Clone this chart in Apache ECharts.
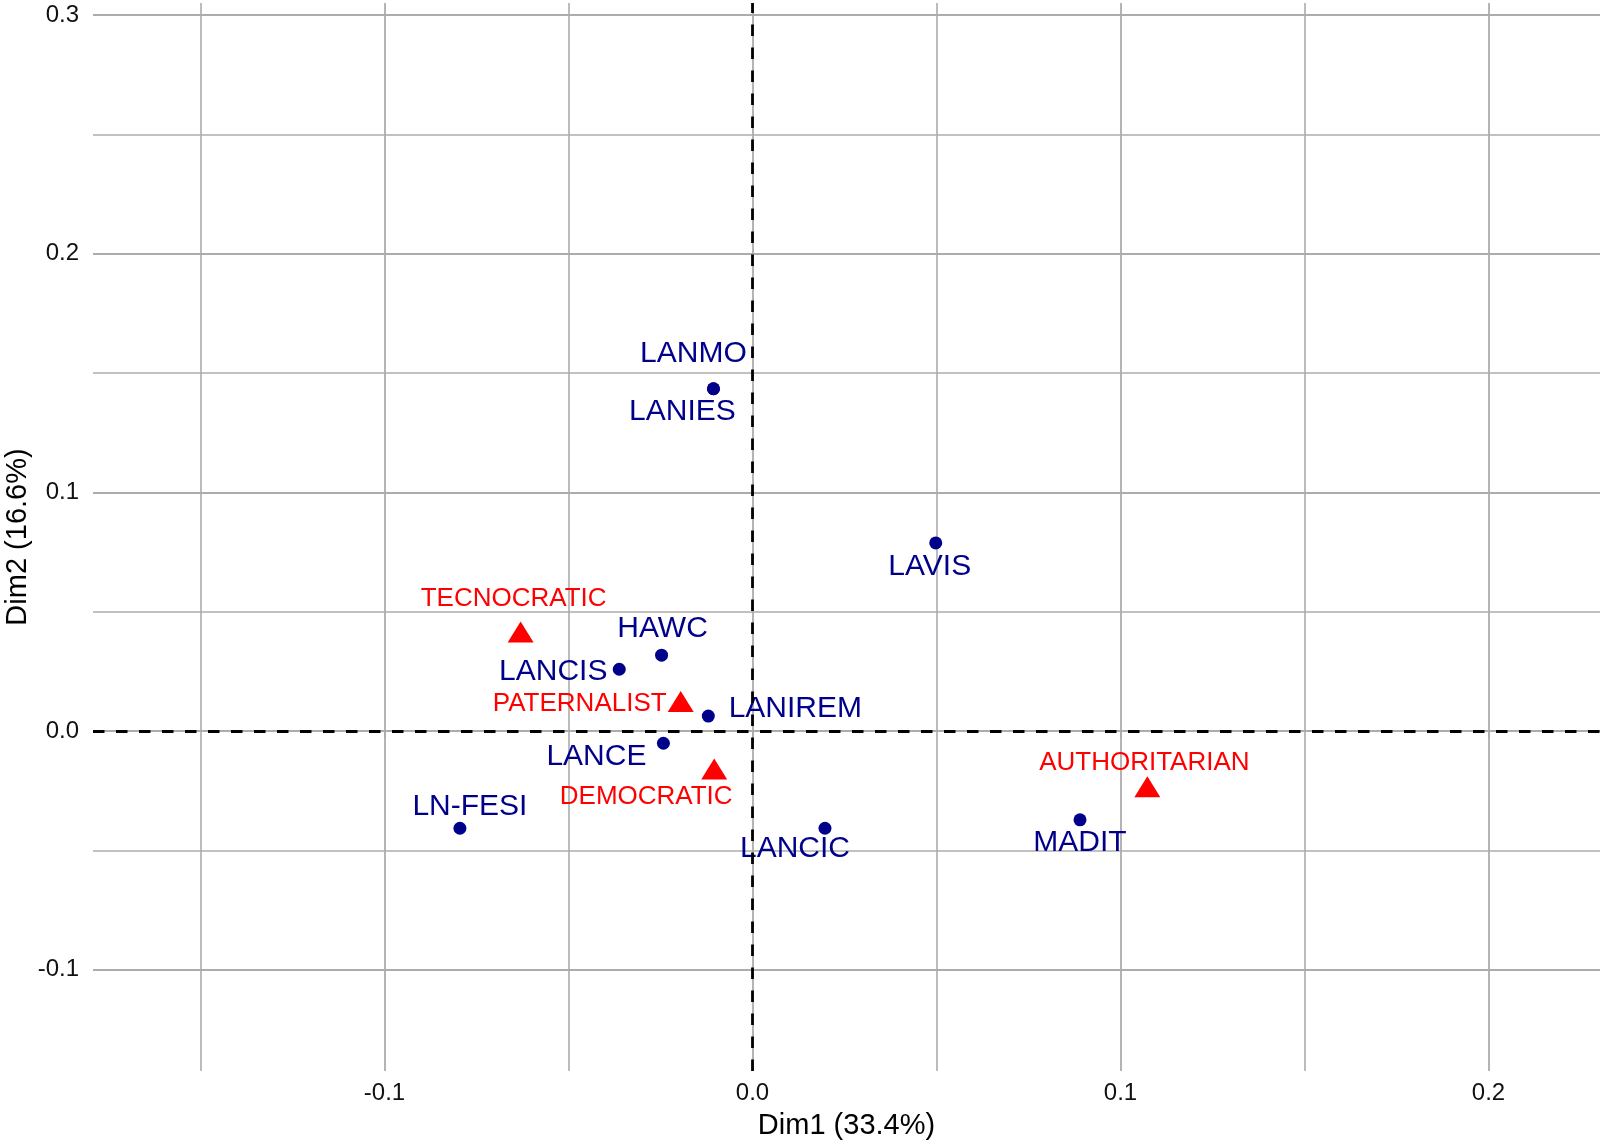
<!DOCTYPE html>
<html>
<head>
<meta charset="utf-8">
<script src="https://cdn.jsdelivr.net/npm/echarts@6/dist/echarts.min.js"></script>
<style>
  html, body { margin: 0; padding: 0; background: #ffffff; }
  #chart { width: 1603px; height: 1144px; }
</style>
</head>
<body>
<div id="chart"></div>
<script>
// ---- Data ----
const varNames = ['LANMO', 'LANIES', 'HAWC', 'LANCIS', 'LANIREM', 'LANCE', 'LAVIS', 'MADIT', 'LN-FESI', 'LANCIC'];
const varDim1  = [-0.0106, -0.0106, -0.0247, -0.0362, -0.0120, -0.0242, 0.0498, 0.0890, -0.0795, 0.0197];
const varDim2  = [ 0.1434,  0.1434,  0.0318,  0.0259,  0.0063, -0.0051, 0.0788, -0.0372, -0.0407, -0.0407];

const groupNames = ['TECNOCRATIC', 'PATERNALIST', 'DEMOCRATIC', 'AUTHORITARIAN'];
const groupDim1  = [-0.0630, -0.0195, -0.0104, 0.1073];
const groupDim2  = [ 0.0415,  0.0124, -0.0159, -0.0233];

const xMajorTicks = [-0.1, 0.0, 0.1, 0.2];
const xMinorTicks = [-0.15, -0.05, 0.05, 0.15];
const yMajorTicks = [-0.1, 0.0, 0.1, 0.2, 0.3];
const yMinorTicks = [-0.05, 0.05, 0.15, 0.25];

const xTitle = 'Dim1 (33.4%)';
const yTitle = 'Dim2 (16.6%)';

// ---- Layout (label offsets in px, repelled text placement) ----
const varLabelOffsets = [[-20, -35], [-31, 23], [1, -26], [-66, 2], [87, -7], [-67, 13], [-6, 24], [0, 23], [10, -21], [-30, 21]];
const groupLabelOffsets = [[-7, -33], [-101, 2], [-68, 28], [-3, -24]];

const FONT = '"Liberation Sans", Arial, Helvetica, sans-serif';
const GRID_COLOR = '#acacac';

const chart = echarts.init(document.getElementById('chart'), null, { renderer: 'canvas' });

const fmt = v => Number(v).toFixed(1);

const varData = varNames.map((n, i) => ({
  name: n,
  value: [varDim1[i], varDim2[i]],
  label: { offset: varLabelOffsets[i] }
}));
const groupData = groupNames.map((n, i) => ({
  name: n,
  value: [groupDim1[i], groupDim2[i]],
  label: { offset: groupLabelOffsets[i] }
}));

const xRange = { min: -0.1792, max: 0.2303 };
const yRange = { min: -0.1424, max: 0.3050 };

const option = {
  backgroundColor: '#ffffff',
  animation: false,
  grid: { left: 93, right: 3, top: 3, bottom: 73, containLabel: false, outerBoundsMode: 'none' },
  xAxis: [
    {
      type: 'value', min: xRange.min, max: xRange.max, position: 'bottom',
      name: xTitle, nameLocation: 'middle', nameGap: 40, nameMoveOverlap: false,
      nameTextStyle: { fontFamily: FONT, fontSize: 29, color: '#000' },
      axisLine: { show: false },
      axisTick: { show: true, length: 7, customValues: xMajorTicks, lineStyle: { color: GRID_COLOR, width: 1.8 } },
      axisLabel: { customValues: xMajorTicks, formatter: fmt, fontFamily: FONT, fontSize: 24, color: '#111', margin: 10 },
      splitLine: { show: true, lineStyle: { color: GRID_COLOR, width: 1.8 } }
    },
    {
      type: 'value', min: xRange.min, max: xRange.max, position: 'bottom',
      axisLine: { show: false },
      axisTick: { show: false, customValues: xMinorTicks },
      axisLabel: { show: false, customValues: xMinorTicks },
      splitLine: { show: true, lineStyle: { color: GRID_COLOR, width: 1.6 } }
    }
  ],
  yAxis: [
    {
      type: 'value', min: yRange.min, max: yRange.max, position: 'left',
      name: yTitle, nameLocation: 'middle', nameGap: 61, nameMoveOverlap: false,
      nameTextStyle: { fontFamily: FONT, fontSize: 29, color: '#000' },
      axisLine: { show: false },
      axisTick: { show: true, length: 7, customValues: yMajorTicks, lineStyle: { color: GRID_COLOR, width: 1.8 } },
      axisLabel: { customValues: yMajorTicks, formatter: fmt, fontFamily: FONT, fontSize: 24, color: '#111', margin: 14 },
      splitLine: { show: true, lineStyle: { color: GRID_COLOR, width: 1.8 } }
    },
    {
      type: 'value', min: yRange.min, max: yRange.max, position: 'left',
      axisLine: { show: false },
      axisTick: { show: false, customValues: yMinorTicks },
      axisLabel: { show: false, customValues: yMinorTicks },
      splitLine: { show: true, lineStyle: { color: GRID_COLOR, width: 1.6 } }
    }
  ],
  series: [
    {
      type: 'scatter', name: 'axes0', xAxisIndex: 0, yAxisIndex: 0, data: [], z: 1,
      silent: true,
      markLine: {
        silent: true, symbol: ['none', 'none'], animation: false,
        label: { show: false },
        lineStyle: { color: '#000000', width: 2.8, type: [11.5, 11.5] },
        emphasis: { disabled: true },
        data: [{ xAxis: 0 }, { yAxis: 0 }]
      }
    },
    {
      type: 'scatter', name: 'variables', xAxisIndex: 0, yAxisIndex: 0, z: 3,
      symbol: 'circle', symbolSize: 13,
      itemStyle: { color: '#00008B', opacity: 1 },
      label: {
        show: true, position: 'inside', formatter: '{b}',
        fontFamily: FONT, fontSize: 30, color: '#00008B'
      },
      data: varData
    },
    {
      type: 'scatter', name: 'groups', xAxisIndex: 0, yAxisIndex: 0, z: 3,
      symbol: 'triangle', symbolSize: [26, 21],
      itemStyle: { color: '#FF0000', opacity: 1 },
      label: {
        show: true, position: 'inside', formatter: '{b}',
        fontFamily: FONT, fontSize: 26, color: '#FF0000'
      },
      data: groupData
    }
  ]
};

chart.setOption(option);
</script>
</body>
</html>
